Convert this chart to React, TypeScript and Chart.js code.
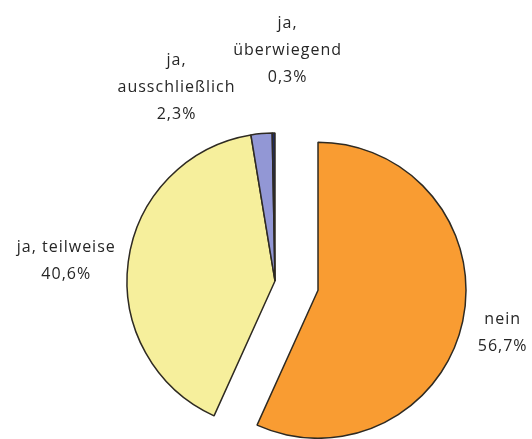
import React, { useEffect, useRef } from "react";
import { Chart, registerables, ArcElement } from "chart.js";

Chart.register(...registerables);

// ---- data ----
const categories = ["nein", "ja, teilweise", "ja, ausschließlich", "ja, überwiegend"];
const values = [56.7, 40.6, 2.3, 0.3];
// how each category label is broken into lines
const categoryLines = [["nein"], ["ja, teilweise"], ["ja,", "ausschließlich"], ["ja,", "überwiegend"]];

// ---- styles / layout ----
const colors = ["#F99C32", "#F6EF9C", "#9297D5", "#1F2A66"];
const explode = [44, 0, 0, 0];
const labelShift: [number, number][] = [
  [40, 11],
  [-62, -1],
  [-85, -46],
  [14, -83],
];
const LINE_H = 27;

const fmtPct = (v: number) => v.toFixed(1).replace(".", ",") + "%";

// pulls slices out of the pie without enlarging them
const explodePlugin = {
  id: "explodeSlices",
  afterUpdate(chart: any) {
    const meta = chart.getDatasetMeta(0);
    meta.data.forEach((arc: any, i: number) => {
      const d = explode[i] || 0;
      if (!d) return;
      arc.draw = function (ctx: CanvasRenderingContext2D, area: any) {
        const mid = (this.startAngle + this.endAngle) / 2;
        ctx.save();
        ctx.translate(Math.cos(mid) * d, Math.sin(mid) * d);
        ArcElement.prototype.draw.call(this, ctx, area);
        ctx.restore();
      };
    });
  },
};

const labelPlugin = {
  id: "outerLabels",
  afterDatasetsDraw(chart: any) {
    const ctx = chart.ctx as CanvasRenderingContext2D;
    const meta = chart.getDatasetMeta(0);
    ctx.save();
    ctx.font = "16px 'Open Sans'";
    (ctx as any).letterSpacing = "1px";
    ctx.fillStyle = "#262626";
    ctx.textAlign = "center";
    ctx.textBaseline = "middle";
    meta.data.forEach((arc: any, i: number) => {
      const p = arc.getProps(["x", "y", "startAngle", "endAngle", "outerRadius"], true);
      const mid = (p.startAngle + p.endAngle) / 2;
      const d = p.outerRadius + (explode[i] || 0);
      const ax = p.x + Math.cos(mid) * d + labelShift[i][0];
      const ay = p.y + Math.sin(mid) * d + labelShift[i][1];
      const lines = [...categoryLines[i], fmtPct(values[i])];
      const top = ay - ((lines.length - 1) * LINE_H) / 2;
      lines.forEach((t, k) => ctx.fillText(t, ax, top + k * LINE_H));
    });
    ctx.restore();
  },
};

export default function App() {
  const ref = useRef<HTMLCanvasElement>(null);
  useEffect(() => {
    if (!ref.current) return;
    const chart = new Chart(ref.current, {
      type: "pie",
      data: {
        labels: categories,
        datasets: [
          {
            data: values,
            backgroundColor: colors,
            borderColor: "#2e2a22",
            borderWidth: 1.5,
            hoverOffset: 0,
            clip: false as any,
          } as any,
        ],
      },
      options: {
        animation: false,
        responsive: false,
        radius: 148,
        rotation: 0,
        layout: { padding: { left: 18, right: 0, top: 123, bottom: 0 } },
        plugins: {
          legend: { display: false },
          tooltip: { enabled: false },
        },
        events: [],
      } as any,
      plugins: [explodePlugin, labelPlugin],
    });
    return () => chart.destroy();
  }, []);
  return (
    <div style={{ position: "fixed", left: 0, top: 0, width: 532, height: 439, background: "#fff" }}>
      <canvas ref={ref} width={532} height={439} style={{ display: "block" }} />
    </div>
  );
}
